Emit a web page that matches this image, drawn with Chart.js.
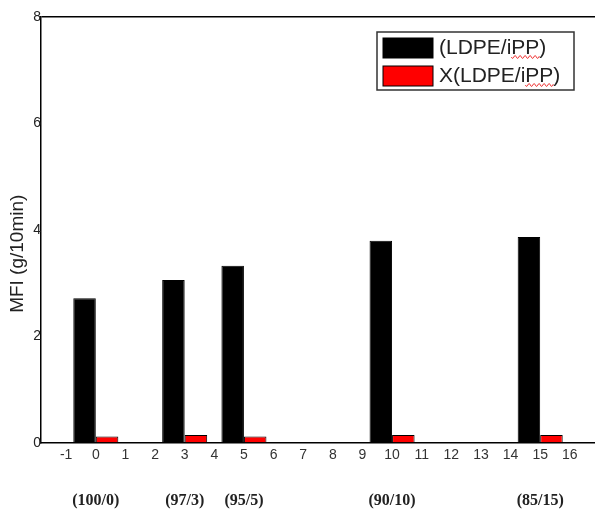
<!DOCTYPE html>
<html>
<head>
<meta charset="utf-8">
<script src="https://cdn.jsdelivr.net/npm/chart.js@4/dist/chart.umd.min.js"></script>
<style>
  html, body { margin: 0; padding: 0; background: #fff; }
  #wrap { width: 595px; height: 509px; position: relative; }
</style>
</head>
<body>
<div id="wrap"><canvas id="mfi"></canvas></div>
<script>
// blend ratio positions on the x axis
const positions = [0, 3, 5, 10, 15];
const compLabels = ['(100/0)', '(97/3)', '(95/5)', '(90/10)', '(85/15)'];
// MFI values (g/10min)
const mfiBlend = [2.72, 3.06, 3.33, 3.80, 3.87];
const mfiX = [0.12, 0.15, 0.12, 0.15, 0.15];
const seriesNames = ['(LDPE/iPP)', 'X(LDPE/iPP)'];
const yTicks = [0, 2, 4, 6, 8];

// legend drawn inside the plot, with a box round it
const boxLegend = {
  id: 'boxLegend',
  afterDatasetsDraw(chart) {
    const { ctx, chartArea } = chart;
    const x0 = chartArea.right - 218, y0 = chartArea.top + 15;
    ctx.save();
    ctx.strokeStyle = '#333';
    ctx.lineWidth = 1.5;
    ctx.strokeRect(x0, y0, 197, 58);
    ctx.font = '21px "Liberation Sans", Arial, sans-serif';
    ctx.textBaseline = 'middle';
    chart.data.datasets.forEach((ds, i) => {
      const sy = y0 + 6 + i * 28;
      ctx.fillStyle = ds.backgroundColor;
      ctx.fillRect(x0 + 6, sy, 50, 20);
      ctx.strokeStyle = '#000';
      ctx.lineWidth = 1;
      ctx.strokeRect(x0 + 6, sy, 50, 20);
      const tx = x0 + 62;
      ctx.fillStyle = '#222';
      ctx.fillText(ds.label, tx, sy + 10);
      // the red spell-check squiggle under "PP"
      const k = ds.label.indexOf('PP');
      const sx = tx + ctx.measureText(ds.label.slice(0, k)).width;
      const w = ctx.measureText('PP').width;
      ctx.strokeStyle = '#e33';
      ctx.lineWidth = 1;
      ctx.beginPath();
      for (let p = 0; p <= w; p += 1) {
        const yy = sy + 19 + Math.sin(p / 5 * 2 * Math.PI) * 1.5;
        if (p === 0) ctx.moveTo(sx + p, yy); else ctx.lineTo(sx + p, yy);
      }
      ctx.stroke();
    });
    ctx.restore();
  }
};

// keep the x scales spanning the full plot width
const fitX = (h) => (s) => { s.height = h; };

const ctx = document.getElementById('mfi').getContext('2d');

new Chart(ctx, {
  type: 'bar',
  data: {
    datasets: [{
      label: seriesNames[0],
      data: positions.map((x, i) => ({ x: x, y: mfiBlend[i] })),
      backgroundColor: '#000000',
      borderColor: '#000000',
      borderWidth: 1
    }, {
      label: seriesNames[1],
      data: positions.map((x, i) => ({ x: x, y: mfiX[i] })),
      backgroundColor: '#ff0000',
      borderColor: '#000000',
      borderWidth: 1
    }]
  },
  options: {
    responsive: true,
    maintainAspectRatio: false,
    animation: false,
    categoryPercentage: 1.52,
    barPercentage: 1.0,
    layout: { padding: { top: 17, right: 0, left: 0, bottom: 0 } },
    plugins: {
      legend: { display: false },
      tooltip: { enabled: false }
    },
    scales: {
      x: {
        type: 'linear',
        position: 'bottom',
        offset: false,
        min: -1.85,
        max: 16.85,
        weight: 0,
        afterFit: fitX(22),
        grid: { display: false, offset: false },
        border: { display: true, color: '#000', width: 1.5 },
        ticks: {
          stepSize: 1,
          includeBounds: false,
          autoSkip: false,
          maxRotation: 0,
          padding: -4,
          color: '#333',
          font: { family: '"Liberation Sans", Arial, sans-serif', size: 14 }
        }
      },
      xc: {
        type: 'linear',
        position: 'bottom',
        offset: false,
        min: -1.85,
        max: 16.85,
        weight: 1,
        afterFit: fitX(44),
        grid: { display: false, offset: false },
        border: { display: false },
        ticks: {
          stepSize: 1,
          includeBounds: false,
          autoSkip: false,
          maxRotation: 0,
          padding: 18,
          color: '#222',
          font: { family: '"Liberation Serif", "Times New Roman", serif', size: 16, weight: 'bold' },
          callback: (v) => {
            const k = positions.indexOf(v);
            return k >= 0 ? compLabels[k] : '';
          }
        }
      },
      y: {
        min: 0,
        max: 8,
        afterFit: (s) => { s.width = 41; },
        afterBuildTicks: (s) => { s.ticks = yTicks.map(v => ({ value: v })); },
        grid: {
          drawTicks: false,
          color: (c) => (c.tick && c.tick.value === 8 ? '#000' : 'rgba(0,0,0,0)'),
          lineWidth: 1.5
        },
        border: { display: true, color: '#000', width: 1.5 },
        ticks: {
          padding: 0,
          color: '#222',
          font: { family: '"Liberation Sans", Arial, sans-serif', size: 14 }
        },
        title: {
          display: true,
          text: 'MFI (g/10min)         ',
          color: '#222',
          padding: { top: 6, bottom: 0 },
          font: { family: '"Liberation Sans", Arial, sans-serif', size: 19 }
        }
      }
    }
  },
  plugins: [boxLegend]
});
</script>
</body>
</html>
